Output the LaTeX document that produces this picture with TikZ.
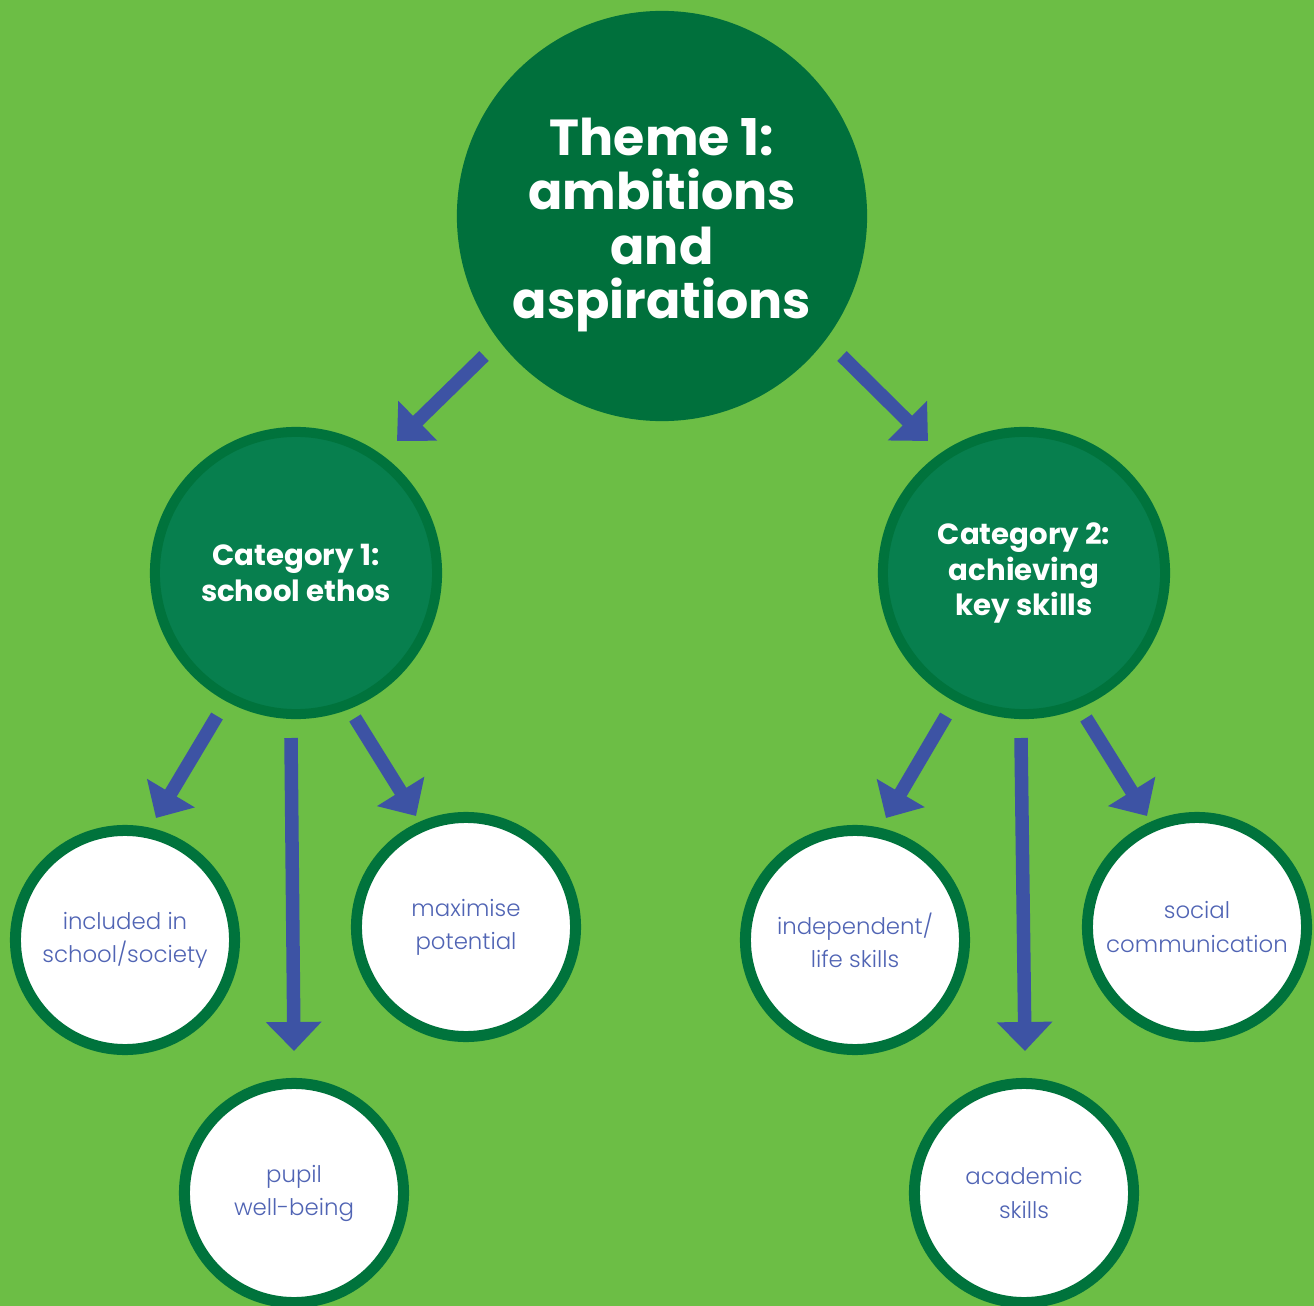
\documentclass[tikz,border=0pt]{standalone}
\usepackage{fontspec}
\setmainfont{Poppins}
\newfontfamily\leaffont{Poppins Light}
\usetikzlibrary{arrows.meta,calc}
\definecolor{bg}{HTML}{6CBE45}
\definecolor{topgreen}{HTML}{00703C}
\definecolor{catfill}{HTML}{077F4E}
\definecolor{ringgreen}{HTML}{00733C}
\definecolor{arrowblue}{HTML}{3D53A4}
\definecolor{leafblue}{HTML}{5064B4}
\tikzset{
  themenode/.style={circle, fill=topgreen, minimum size=4.1cm, inner sep=0pt},
  themetext/.style={text=white, align=center, inner sep=0pt, yshift=-0.09cm,
    font=\fontsize{14.4}{15.4}\selectfont\bfseries},
  catnode/.style={circle, fill=catfill, draw=ringgreen, line width=0.1cm,
    minimum size=2.82cm, inner sep=0pt, text=white, align=center,
    font=\fontsize{8.3}{10}\selectfont\bfseries},
  leafnode/.style={circle, fill=white, draw=ringgreen, line width=0.11cm,
    minimum size=2.19cm, inner sep=0pt, text=leafblue, align=center,
    font=\fontsize{6.5}{9.4}\selectfont\leaffont},
  bluearrow/.style={draw=arrowblue, line width=0.135cm,
    -{Triangle[length=0.29cm,width=0.54cm]}},
}
\begin{document}
\begin{tikzpicture}[x=0.01cm,y=-0.01cm]
\fill[bg] (0,0) rectangle (1314,1306);
\useasboundingbox (0,0) rectangle (1314,1306);

\node[themenode, label={[themetext]center:{Theme 1:\\ambitions\\and\\aspirations}}] (top) at (662,216) {};
\node[catnode] (cat1) at (296,573) {Category 1:\\school ethos};
\node[catnode] (cat2) at (1024,573) {Category 2:\\achieving\\key skills};

\node[leafnode] (inc) at (125,940) {included in\\school/society};
\node[leafnode] (max) at (466,927) {maximise\\potential};
\node[leafnode] (pup) at (294,1193) {pupil\\well-being};
\node[leafnode] (ind) at (855,940) {independent/\\life skills};
\node[leafnode] (soc) at (1197,927) {social\\communication};
\node[leafnode] (aca) at (1024,1193) {academic\\skills};

\draw[bluearrow] ($(top)+(-178,140)$) -- ($(cat1)+(101,-132)$);
\draw[bluearrow] ($(top)+(180,140)$) -- ($(cat2)+(-96,-132)$);

\draw[bluearrow] ($(cat1)+(-79,143)$) -- ($(inc)+(31,-122)$);
\draw[bluearrow] ($(cat1)+(-5,165)$) -- ($(pup)+(0,-142)$);
\draw[bluearrow] ($(cat1)+(59,145)$) -- ($(max)+(-50,-111)$);

\draw[bluearrow] ($(cat2)+(-78,143)$) -- ($(ind)+(31,-122)$);
\draw[bluearrow] ($(cat2)+(-3,165)$) -- ($(aca)+(1,-142)$);
\draw[bluearrow] ($(cat2)+(62,145)$) -- ($(soc)+(-50,-111)$);
\end{tikzpicture}
\end{document}
